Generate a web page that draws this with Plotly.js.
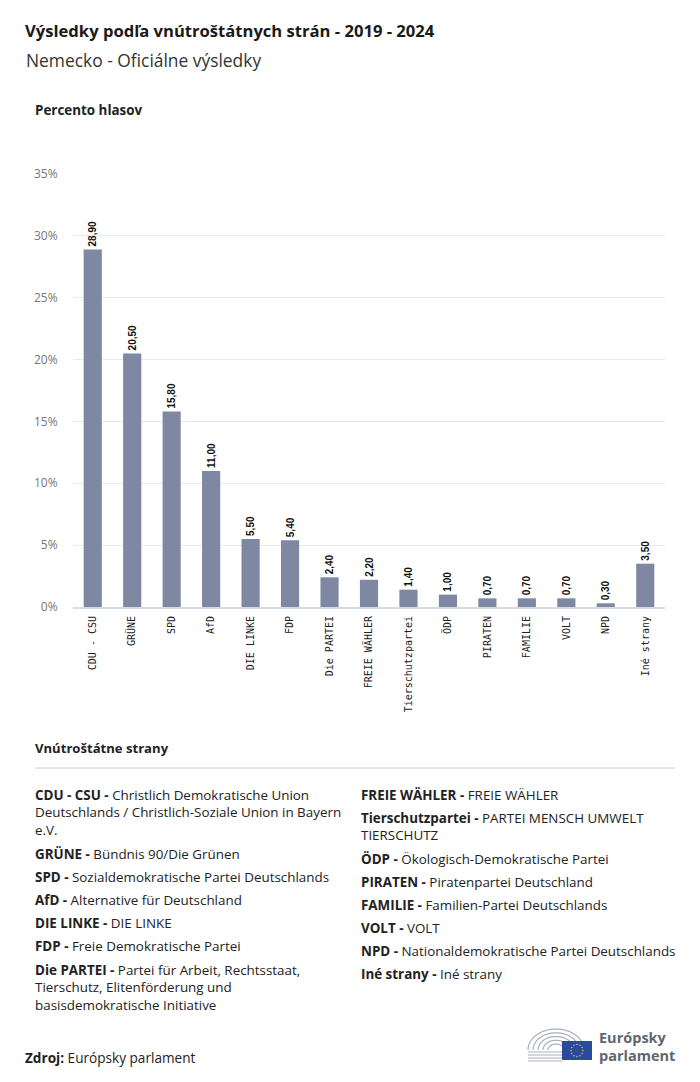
<!DOCTYPE html>
<html>
<head>
<meta charset="utf-8">
<script src="https://cdn.plot.ly/plotly-3.0.1.min.js"></script>
<style>html,body{margin:0;padding:0;background:#fff;}#chart{width:700px;height:1082px;}</style>
</head>
<body>
<div id="chart"></div>
<script>
// ---- data ----
const parties = ["CDU - CSU","GRÜNE","SPD","AfD","DIE LINKE","FDP","Die PARTEI","FREIE WÄHLER","Tierschutzpartei","ÖDP","PIRATEN","FAMILIE","VOLT","NPD","Iné strany"];
const shares = [28.9,20.5,15.8,11.0,5.5,5.4,2.4,2.2,1.4,1.0,0.7,0.7,0.7,0.3,3.5];
const partyNames = [
  "Christlich Demokratische Union<br>Deutschlands / Christlich-Soziale Union in Bayern<br>e.V.",
  "Bündnis 90/Die Grünen",
  "Sozialdemokratische Partei Deutschlands",
  "Alternative für Deutschland",
  "DIE LINKE",
  "Freie Demokratische Partei",
  "Partei für Arbeit, Rechtsstaat,<br>Tierschutz, Elitenförderung und<br>basisdemokratische Initiative",
  "FREIE WÄHLER",
  "PARTEI MENSCH UMWELT<br>TIERSCHUTZ",
  "Ökologisch-Demokratische Partei",
  "Piratenpartei Deutschland",
  "Familien-Partei Deutschlands",
  "VOLT",
  "Nationaldemokratische Partei Deutschlands",
  "Iné strany"
];
const yTicks = [0,5,10,15,20,25,30,35];

// ---- layout helpers ----
const L = 73, R = 665, T = 174, B = 607;
const px = x => (x - L) / (R - L);
const py = y => (B - y) / (B - T);
const FONT = "'Open Sans', 'Noto Sans', sans-serif";

const ann = [];
function txt(x, y, text, size, color) {
  ann.push({xref:'paper', yref:'paper', x:px(x - 2), y:py(y), text:text, showarrow:false,
    xanchor:'left', yanchor:'middle', align:'left', font:{family:FONT, size:size, color:color || '#222'}});
}
txt(25, 30, "<b>Výsledky podľa vnútroštátnych strán - 2019 - 2024</b>", 16.6, '#1a1a1a');
txt(26, 60, "Nemecko - Oficiálne výsledky", 17.4, '#333');
txt(35, 110, "<b>Percento hlasov</b>", 13.4);
txt(35, 748, "<b>Vnútroštátne strany</b>", 13.1);
txt(25, 1057, "<b>Zdroj:</b> Európsky parlament", 13.6);

// legend entries
const leftTops = [794, 853, 876, 899, 922, 945, 969];
const rightTops = [794, 817, 858, 881, 904, 927, 950, 973];
parties.forEach((p, i) => {
  const left = i < 7;
  const yc = left ? leftTops[i] : rightTops[i - 7];
  const x = left ? 35 : 361;
  ann.push({xref:'paper', yref:'paper', x:px(x - 2), y:py(yc - 10), text:"<b>" + p + " -</b> " + partyNames[i],
    showarrow:false, xanchor:'left', yanchor:'top', align:'left',
    font:{family:FONT, size:13.4, color:'#222'}});
});

// logo text
txt(599, 1037, "<b>Európsky</b>", 14.5, '#5f6670');
txt(599, 1055, "<b>parlament</b>", 14.5, '#5f6670');

const shapes = [];
shapes.push({type:'line', xref:'paper', yref:'paper', x0:px(35), x1:px(675), y0:py(768), y1:py(768), line:{color:'#cccccc', width:1}});
// hemicycle arcs
const cx = 556, cy = 1050;
for (let k = 0; k < 5; k++) {
  const r = 28 - k * 5;
  let d = '';
  for (let a = 0; a <= 180; a += 6) {
    const rad = Math.PI * a / 180;
    const x = cx - r * Math.cos(rad), y = cy - r * 0.75 * Math.sin(rad);
    d += (a === 0 ? 'M' : 'L') + px(x) + ',' + py(y) + ' ';
  }
  shapes.push({type:'path', xref:'paper', yref:'paper', path:d, line:{color:'#a9afb8', width:1.2}});
}
for (let k = 0; k < 4; k++) {
  const y = 1052 + k * 3;
  shapes.push({type:'line', xref:'paper', yref:'paper', x0:px(528), x1:px(562), y0:py(y), y1:py(y), line:{color:'#a9afb8', width:1}});
}
shapes.push({type:'rect', xref:'paper', yref:'paper', x0:px(562), x1:px(592), y0:py(1041), y1:py(1060), fillcolor:'#2a4a9b', line:{width:0}});
for (let s = 0; s < 12; s++) {
  const a = 2 * Math.PI * s / 12;
  const sx = 577 + 6 * Math.cos(a), sy = 1050.5 + 6 * Math.sin(a);
  shapes.push({type:'circle', xref:'paper', yref:'paper', x0:px(sx - 0.7), x1:px(sx + 0.7), y0:py(sy - 0.7), y1:py(sy + 0.7), fillcolor:'#f4d23c', line:{width:0}});
}

const trace = {
  type:'bar', x:parties, y:shares,
  marker:{color:'#7f88a3'},
  texttemplate:'<b>%{y:.2f}</b>', textposition:'outside', textangle:-90, constraintext:'none',
  textfont:{family:"'Liberation Sans', Arial, sans-serif", size:10, color:'#111'},
  cliponaxis:false, hoverinfo:'skip'
};

const layout = {
  width:700, height:1082,
  margin:{l:L, r:700 - R, t:T, b:1082 - B},
  paper_bgcolor:'#fff', plot_bgcolor:'#fff',
  separators:', ',
  bargap:0.54,
  showlegend:false,
  xaxis:{
    type:'category', tickangle:-90, showgrid:false, showline:true, linecolor:'#d5dbe6', linewidth:2,
    ticks:'outside', ticklen:3, tickcolor:'rgba(0,0,0,0)',
    tickfont:{family:"'DejaVu Sans Mono', monospace", size:10, color:'#222'}, fixedrange:true
  },
  yaxis:{
    range:[0,35], tickvals:yTicks, ticktext:yTicks.map(v => v + '%'),
    showgrid:true, gridcolor:'#e9e9ec', gridwidth:1, zeroline:false, showline:false,
    ticks:'outside', ticklen:12, tickcolor:'rgba(0,0,0,0)',
    tickfont:{family:FONT, size:12, color:'#777'}, fixedrange:true
  },
  annotations:ann, shapes:shapes
};
Plotly.newPlot('chart', [trace], layout, {displayModeBar:false, staticPlot:true});
</script>
</body>
</html>
